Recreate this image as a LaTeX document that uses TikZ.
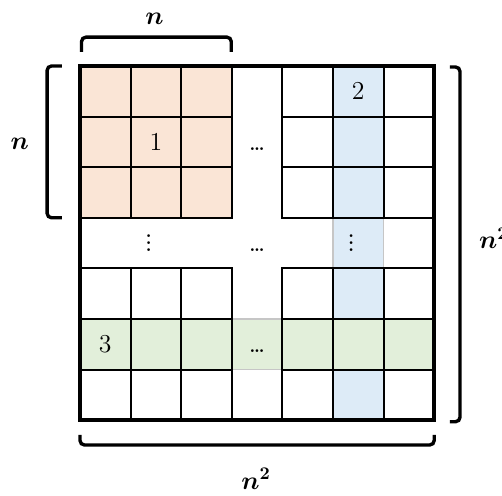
\documentclass[tikz,border=0pt]{standalone}
\usepackage{amsmath}
\usepackage{amssymb}
\usepackage{tikz}

\definecolor{peach}{HTML}{FAE5D6}
\definecolor{paleblue}{HTML}{DDEBF7}
\definecolor{palegreen}{HTML}{E2EFDA}

\begin{document}
\begin{tikzpicture}[x=1cm, y=-1cm,
    cellline/.style={line width=1.1pt},
    gapline/.style={gray!45, line width=0.6pt},
    bracket/.style={line width=1.9pt, rounded corners=2.5pt},
    numtxt/.style={font=\fontsize{14.5}{16}\selectfont},
    dotstxt/.style={font=\bfseries},
    dimtxt/.style={font=\fontsize{14}{16}\selectfont}]
    \useasboundingbox (-1.581,-1.304) rectangle (8.340,8.498);

    % shaded block, column and row
    \fill[peach] (0,0) rectangle (3,3);
    \fill[paleblue] (5,0) rectangle (6,7);
    \fill[palegreen] (0,5) rectangle (7,6);

    % faint edges where the stripes cross the gaps
    \draw[gapline] (5,3) rectangle (6,4);
    \draw[gapline] (3,5) rectangle (4,6);

    % the four 3x3 corner blocks
    \foreach \bx/\by in {0/0, 4/0, 0/4, 4/4}
      \foreach \i in {0,1,2}
        \foreach \j in {0,1,2}
          \draw[cellline] (\bx+\i,\by+\j) rectangle ++(1,1);

    \draw[line width=2.3pt] (0,0) rectangle (7,7);

    \node[numtxt] (one) at (1.5,1.5) {1};
    \node[numtxt] (two) at (5.5,0.5) {2};
    \node[numtxt] (three) at (0.5,5.5) {3};

    \node[dotstxt] (hdotsA) at (3.5,1.64) {\ldots};
    \node[dotstxt] (hdotsB) at (3.5,3.64) {\ldots};
    \node[dotstxt] (hdotsC) at (3.5,5.64) {\ldots};
    \node[dotstxt] (vdotsA) at (1.36,3.40) {$\vdots$};
    \node[dotstxt] (vdotsB) at (5.36,3.40) {$\vdots$};

    % brackets
    \draw[bracket] (0.03,-0.28) -- (0.03,-0.57) -- (2.99,-0.57) -- (2.99,-0.28);
    \draw[bracket] (-0.36,0.0) -- (-0.65,0.0) -- (-0.65,3.0) -- (-0.36,3.0);
    \draw[bracket] (7.31,0.02) -- (7.51,0.02) -- (7.51,7.03) -- (7.31,7.03);
    \draw[bracket] (0.0,7.29) -- (0.0,7.49) -- (7.0,7.49) -- (7.0,7.29);

    \node[dimtxt] (ntop) at (1.47,-0.93) {$\boldsymbol{n}$};
    \node[dimtxt] (nleft) at (-1.19,1.54) {$\boldsymbol{n}$};
    \node[dimtxt] (nsqright) at (8.18,3.40) {$\boldsymbol{n^2}$};
    \node[dimtxt] (nsqbottom) at (3.48,8.16) {$\boldsymbol{n^2}$};
\end{tikzpicture}
\end{document}
